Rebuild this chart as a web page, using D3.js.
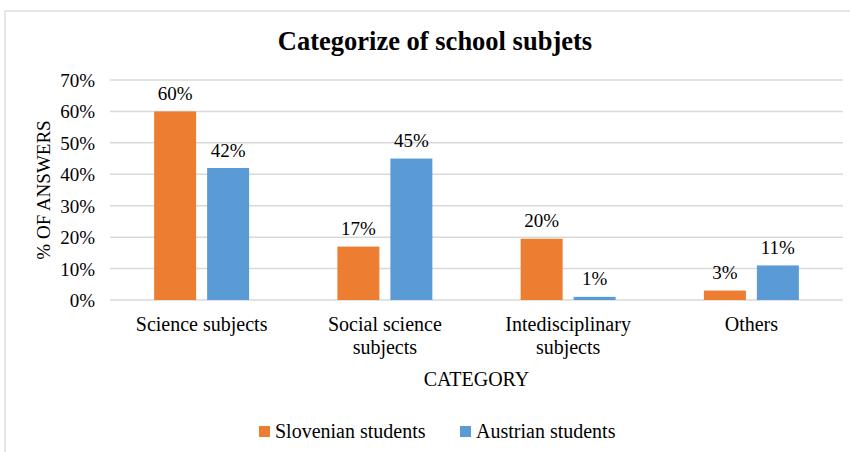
<!DOCTYPE html>
<html>
<head>
<meta charset="utf-8">
<script src="https://cdn.jsdelivr.net/npm/d3@7"></script>
<style>
	body { margin: 0; background: #fff; }
</style>
</head>
<body>
<svg id="chart" width="850" height="452"></svg>
<script>
'use strict' ;

// data
let categories = [ "Science subjects", "Social science subjects", "Intedisciplinary subjects", "Others" ] ;
let categoryLines = [ [ "Science subjects" ], [ "Social science", "subjects" ], [ "Intedisciplinary", "subjects" ], [ "Others" ] ] ;
let seriesNames = [ "Slovenian students", "Austrian students" ] ;
let slovenian = [ 60, 17, 19.5, 3 ] ;
let austrian = [ 42, 45, 1, 11 ] ;
let yTicks = [ 0, 10, 20, 30, 40, 50, 60, 70 ] ;

let colours = { "Slovenian students": "#ED7D31", "Austrian students": "#5B9BD5" } ;
let serif = "'Liberation Serif'" ;

let geom = {
	plot: { left: 110, right: 843, top: 80, bottom: 300 }
} ;

let svg = d3.select( "#chart" ) ;

// chart frame
svg.append( "rect" )
	.attr( "x", 5 ).attr( "y", 11 )
	.attr( "width", 860 ).attr( "height", 460 )
	.attr( "fill", "none" )
	.attr( "stroke", "#d9d9d9" )
	.attr( "stroke-width", 1.3 ) ;

let x = d3.scaleBand()
	.domain( categories )
	.range( [ geom.plot.left, geom.plot.right ] ) ;
let xs = d3.scaleBand()
	.domain( seriesNames )
	.range( [ 0, x.bandwidth() ] )
	.paddingInner( 0.2075 )
	.paddingOuter( 0.833 ) ;
let y = d3.scaleLinear()
	.domain( [ 0, 70 ] )
	.range( [ geom.plot.bottom, geom.plot.top ] ) ;

// gridlines
svg.append( "g" )
	.selectAll( "line" )
	.data( yTicks )
	.enter()
	.append( "line" )
	.attr( "x1", geom.plot.left )
	.attr( "x2", geom.plot.right )
	.attr( "y1", d => y( d ) )
	.attr( "y2", d => y( d ) )
	.attr( "stroke", "#d9d9d9" )
	.attr( "stroke-width", 1.5 ) ;

// y axis labels
let yAxis = svg.append( "g" )
	.attr( "transform", "translate(" + 95 + ",0)" )
	.call( d3.axisLeft( y ).tickValues( yTicks ).tickSize( 0 ).tickPadding( 0 ).tickFormat( d => d + "%" ) ) ;
yAxis.select( ".domain" ).remove() ;
yAxis.selectAll( "text" )
	.attr( "fill", "#000" )
	.attr( "dy", "0.34em" )
	.style( "font-family", serif )
	.style( "font-size", "19px" ) ;

svg.append( "text" )
	.attr( "transform", "translate(50," + ( ( geom.plot.top + geom.plot.bottom ) / 2 ) + ") rotate(-90)" )
	.attr( "text-anchor", "middle" )
	.style( "font-family", serif )
	.style( "font-size", "19px" )
	.text( "% OF ANSWERS" ) ;

// bars
let rows = categories.map( ( c, i ) => ({ category: c, values: [
	{ series: seriesNames[0], value: slovenian[i] },
	{ series: seriesNames[1], value: austrian[i] }
] }) ) ;

let groups = svg.append( "g" )
	.selectAll( "g.group" )
	.data( rows )
	.enter()
	.append( "g" )
	.attr( "class", "group" )
	.attr( "transform", d => "translate(" + x( d.category ) + ",0)" ) ;

groups.selectAll( "rect" )
	.data( d => d.values )
	.enter()
	.append( "rect" )
	.attr( "x", d => xs( d.series ) )
	.attr( "y", d => y( d.value ) )
	.attr( "width", xs.bandwidth() )
	.attr( "height", d => y( 0 ) - y( d.value ) )
	.attr( "fill", d => colours[ d.series ] ) ;

groups.selectAll( "text.value" )
	.data( d => d.values )
	.enter()
	.append( "text" )
	.attr( "class", "value" )
	.attr( "x", d => xs( d.series ) + xs.bandwidth() / 2 )
	.attr( "y", d => y( d.value ) - 11.5 )
	.attr( "text-anchor", "middle" )
	.style( "font-family", serif )
	.style( "font-size", "19px" )
	.text( d => Math.round( d.value ) + "%" ) ;

// category labels
let catLabels = svg.append( "g" )
	.selectAll( "text" )
	.data( categories )
	.enter()
	.append( "text" )
	.attr( "text-anchor", "middle" )
	.style( "font-family", serif )
	.style( "font-size", "20px" )
	.attr( "x", d => x( d ) + x.bandwidth() / 2 )
	.attr( "y", 331 ) ;
catLabels.selectAll( "tspan" )
	.data( ( d, i ) => categoryLines[i] )
	.enter()
	.append( "tspan" )
	.attr( "x", function() { return d3.select( this.parentNode ).attr( "x" ) ; } )
	.attr( "dy", ( d, i ) => i == 0 ? 0 : 23 )
	.text( d => d ) ;

svg.append( "text" )
	.attr( "x", ( geom.plot.left + geom.plot.right ) / 2 )
	.attr( "y", 386 )
	.attr( "text-anchor", "middle" )
	.style( "font-family", serif )
	.style( "font-size", "20px" )
	.text( "CATEGORY" ) ;

// title
svg.append( "text" )
	.attr( "x", 435 )
	.attr( "y", 50 )
	.attr( "text-anchor", "middle" )
	.style( "font-family", serif )
	.style( "font-size", "26.5px" )
	.style( "font-weight", "bold" )
	.text( "Categorize of school subjets" ) ;

// legend
let legendX = [ 259, 460 ] ;
let legend = svg.append( "g" )
	.selectAll( "g.legend" )
	.data( seriesNames )
	.enter()
	.append( "g" )
	.attr( "class", "legend" )
	.attr( "transform", ( d, i ) => "translate(" + legendX[i] + ",426)" ) ;
legend.append( "rect" )
	.attr( "width", 11 )
	.attr( "height", 11 )
	.attr( "fill", d => colours[d] ) ;
legend.append( "text" )
	.attr( "x", 16 )
	.attr( "y", 11.5 )
	.style( "font-family", serif )
	.style( "font-size", "20px" )
	.text( d => d ) ;
</script>
</body>
</html>
